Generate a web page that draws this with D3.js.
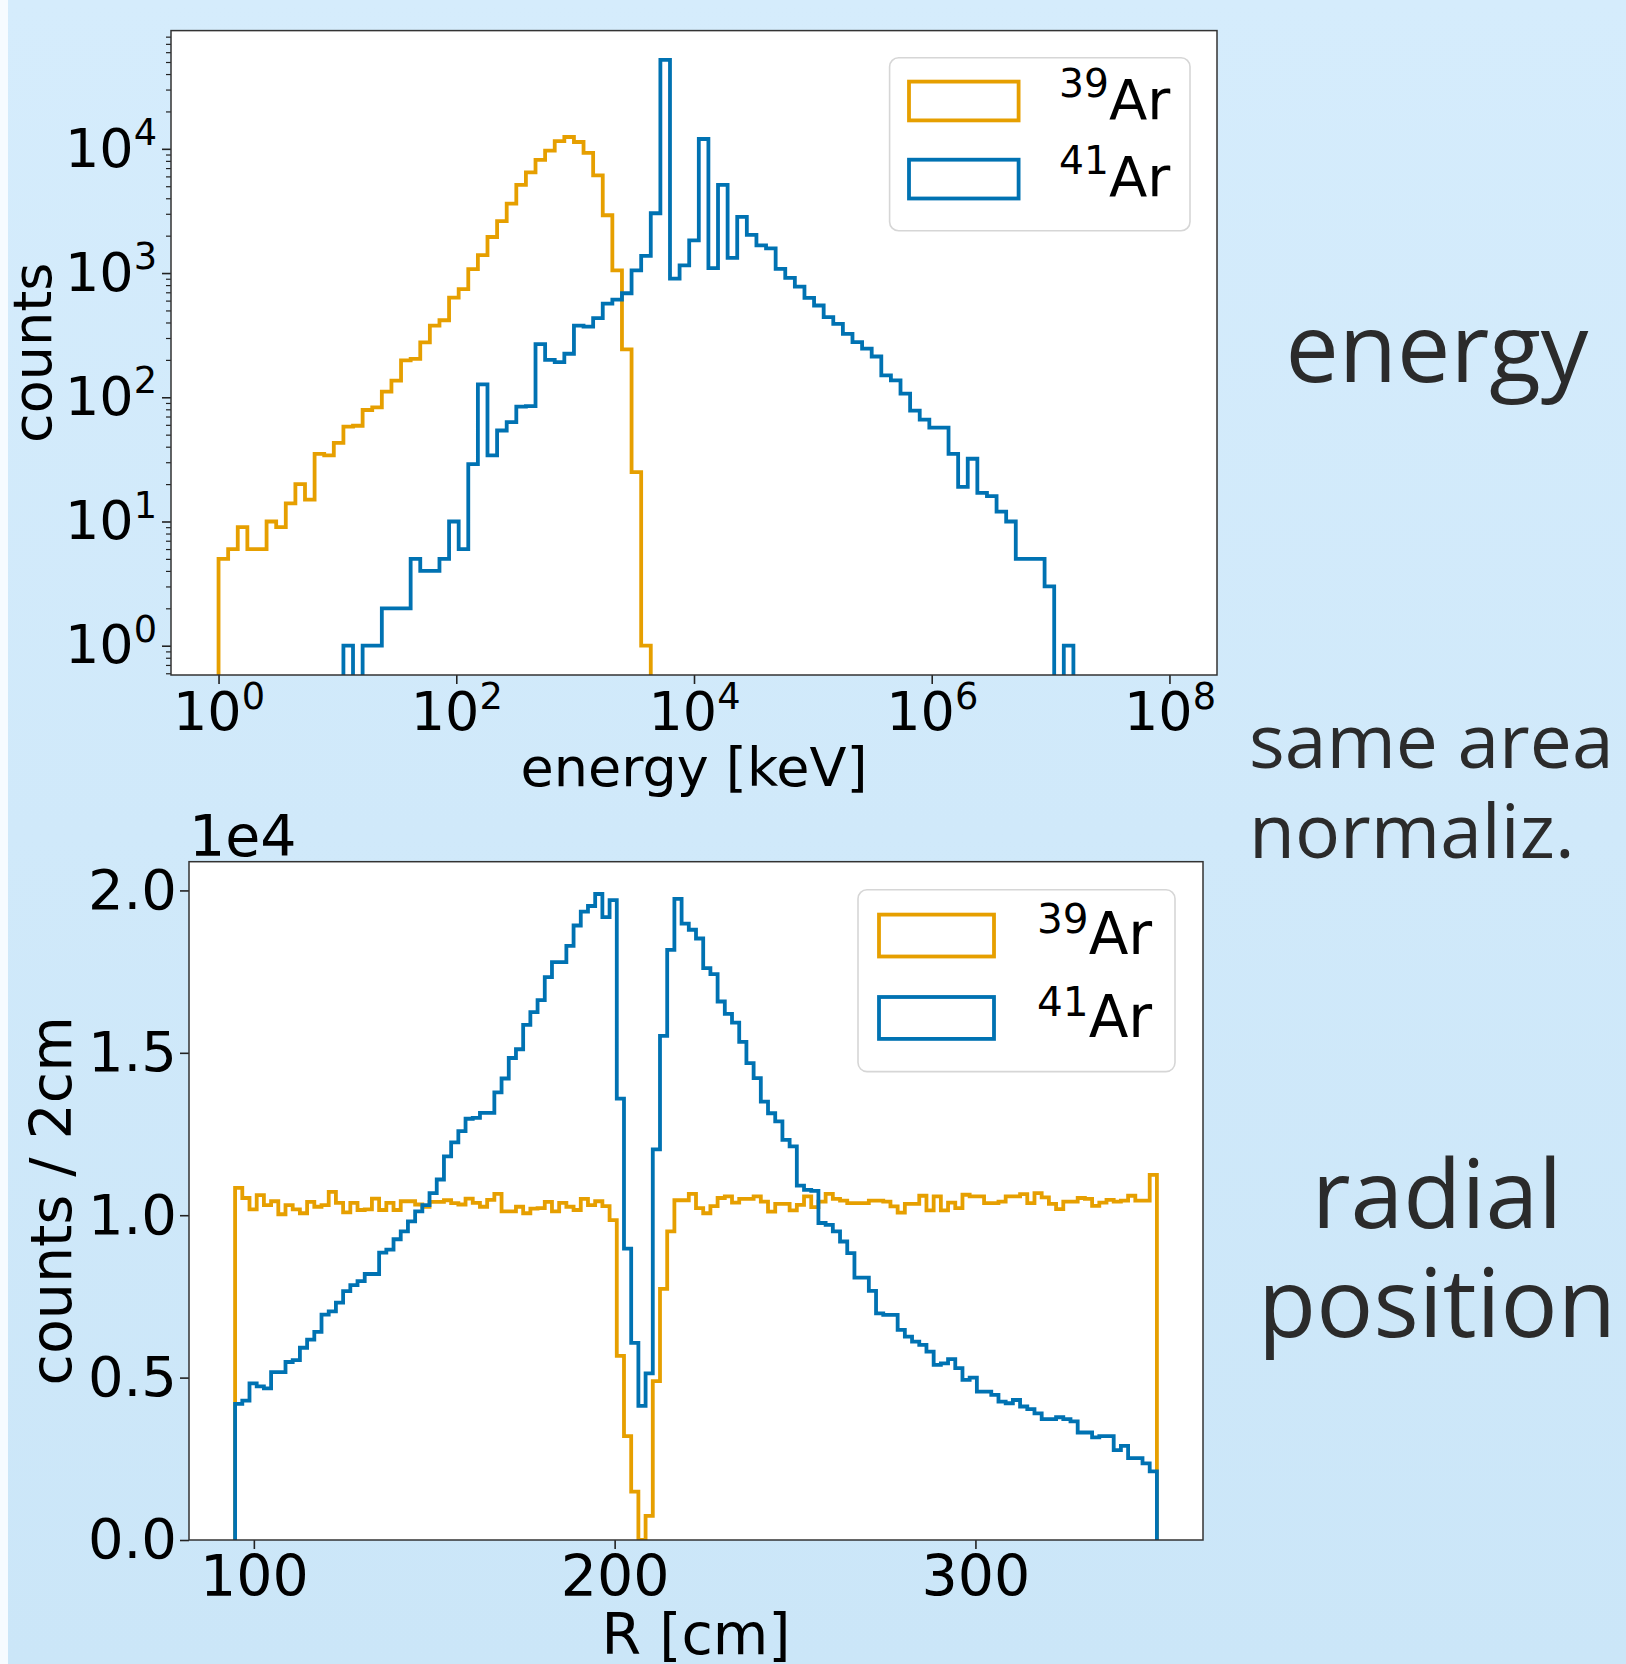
<!DOCTYPE html>
<html>
<head>
<meta charset="utf-8">
<script src="https://cdn.jsdelivr.net/npm/d3@7"></script>
<style>
  html, body { margin: 0; padding: 0; }
  body { width: 1626px; height: 1664px; overflow: hidden; }
  svg { display: block; }
</style>
</head>
<body>
<svg id="canvas" width="1626" height="1664"></svg>
<script>
const W = 1626, H = 1664
const ORANGE = "#E69F00", BLUE = "#0072B2"
const INK = "#2b2b2b"

// ---- energy histogram: log bins, 10^0 .. 10^8 keV, 100 edges
const energyExp = [0, 8]
const energyEdgeCount = 100
const ar39Energy = [5, 6, 9, 6, 6, 10, 9, 14, 20, 15, 35, 34, 43, 58, 59, 79, 83, 111, 136, 198,
  204, 277, 377, 417, 634, 741, 1077, 1392, 1950, 2617, 3620, 5130, 6460, 8140, 9660, 11530, 12450, 11350, 9290, 6120,
  2920, 1052, 243, 25, 1, 0, 0, 0, 0, 0, 0, 0, 0, 0, 0, 0, 0, 0, 0, 0,
  0, 0, 0, 0, 0, 0, 0, 0, 0, 0, 0, 0, 0, 0, 0, 0, 0, 0, 0, 0,
  0, 0, 0, 0, 0, 0, 0, 0, 0, 0, 0, 0, 0, 0, 0, 0, 0, 0, 0]
const ar41Energy = [0, 0, 0, 0, 0, 0, 0, 0, 0, 0, 0, 0, 0, 1, 0, 1, 1, 2, 2, 2,
  5, 4, 4, 5, 10, 6, 29, 127, 34, 54, 63, 84, 85, 268, 200, 192, 224, 377, 371, 433,
  567, 612, 688, 1051, 1377, 3030, 52000, 902, 1153, 1835, 12000, 1094, 5130, 1327, 2828, 2028, 1670, 1582, 1079, 914,
  778, 631, 548, 442, 390, 324, 278, 246, 213, 150, 137, 107, 78, 66, 57, 57, 35, 19, 32, 17,
  16, 12, 10, 5, 5, 5, 3, 0, 1, 0, 0, 0, 0, 0, 0, 0, 0, 0, 0]
const energyTickExp = [0, 2, 4, 6, 8]
const countTickExp = [0, 1, 2, 3, 4]

// ---- radial histogram: 2 cm bins
const radialRange = [94.8, 350.3]
const ar39Radial = [10840, 10530, 10180, 10620, 10310, 10430, 10030, 10310, 10180, 10060,
  10410, 10260, 10310, 10720, 10380, 10090, 10380, 10160, 10180, 10510,
  10160, 10380, 10160, 10430, 10430, 10330, 10260, 10410, 10410, 10460,
  10370, 10330, 10510, 10380, 10260, 10470, 10660, 10120, 10120, 10260,
  10060, 10200, 10220, 10410, 10120, 10380, 10260, 10160, 10500, 10310,
  10430, 10280, 9850, 5670, 3200, 1490, 0, 740, 4890, 7730,
  9500, 10460, 10460, 10660, 10220, 10060, 10280, 10530, 10580, 10390,
  10500, 10500, 10580, 10420, 10110, 10350, 10350, 10150, 10320, 10580,
  10250, 10420, 10660, 10500, 10450, 10370, 10370, 10370, 10450, 10450,
  10420, 10270, 10080, 10350, 10350, 10600, 10150, 10580, 10150, 10390,
  10220, 10630, 10580, 10580, 10370, 10370, 10420, 10580, 10580, 10650,
  10370, 10680, 10550, 10350, 10190, 10420, 10420, 10530, 10500, 10290,
  10390, 10470, 10420, 10450, 10600, 10450, 10450, 11240]
const ar41Radial = [4190, 4290, 4820, 4730, 4670, 5170, 5170, 5480, 5540, 5920,
  6170, 6410, 6940, 7040, 7310, 7660, 7850, 7970, 8190, 8190,
  8850, 8940, 9260, 9500, 9810, 10120, 10310, 10680, 11100, 11810,
  12240, 12590, 12970, 13000, 13150, 13150, 13780, 14210, 14840, 15110,
  15860, 16250, 16620, 17330, 17790, 17790, 18290, 18920, 19350, 19520,
  19890, 19180, 19700, 13590, 8970, 6070, 4130, 5130, 12030, 15520,
  18170, 19740, 18980, 18790, 18520, 17610, 17420, 16580, 16200, 15930,
  15340, 14680, 14220, 13500, 13140, 12890, 12320, 12120, 10910, 10780,
  10750, 9760, 9700, 9500, 9190, 8830, 8080, 8080, 7670, 6980,
  6930, 6930, 6470, 6260, 6110, 6010, 5800, 5390, 5440, 5570,
  5290, 4930, 5000, 4570, 4570, 4470, 4260, 4210, 4310, 4110,
  4030, 3900, 3720, 3720, 3780, 3720, 3650, 3310, 3310, 3160,
  3200, 3200, 2770, 2900, 2520, 2520, 2360, 2110]
const radialTicks = [100, 200, 300]
const radialCountTicks = [0, 5000, 10000, 15000, 20000]

const isotopes = ["39", "41"]
const isoColors = [ORANGE, BLUE]

const svg = d3.select("#canvas")
const defs = svg.append("defs")

// slide background
const grad = defs.append("linearGradient").attr("id", "bg")
  .attr("x1", 0).attr("y1", 0).attr("x2", 0).attr("y2", 1)
grad.append("stop").attr("offset", "0%").attr("stop-color", "#d5ecfc")
grad.append("stop").attr("offset", "100%").attr("stop-color", "#cbe6f8")
svg.append("rect").attr("width", W).attr("height", H).attr("fill", "url(#bg)")
svg.append("rect").attr("width", 8).attr("height", H).attr("fill", "#f6fbff")

// histogram outline, like matplotlib histtype='step'
function stepPath(edges, vals, x, y, floor) {
  const n = edges.length - 1
  const pts = [[edges[0], null]]
    .concat(vals.map((v, i) => [edges[i], v]))
    .concat([[edges[n], vals[n - 1]], [edges[n], null]])
  return d3.line().curve(d3.curveStepAfter)
    .x(d => x(d[0]))
    .y(d => (d[1] === null || d[1] <= 0) ? floor : y(d[1]))(pts)
}

function styleAxis(g, fs) {
  g.attr("font-family", "DejaVu Sans").attr("font-size", fs).attr("color", "#222")
  g.select(".domain").remove()
  g.selectAll(".tick line").attr("stroke-width", 1.6)
  g.selectAll(".tick text").attr("fill", "#000")
}

function powerLabels(a, fs) {
  a.selectAll(".tick text").each(function (d) {
    const t = d3.select(this)
    t.text(null)
    t.append("tspan").text("10")
    t.append("tspan").attr("font-size", fs * 0.68).attr("dy", -fs * 0.4).text(Math.round(Math.log10(d)))
  })
}

function legend(g, box, fs, supShift) {
  g.append("rect").attr("x", box.x).attr("y", box.y).attr("width", box.w).attr("height", box.h)
    .attr("rx", 9).attr("fill", "#fff").attr("stroke", "#d6d6d6").attr("stroke-width", 1.6)
  isotopes.forEach((iso, i) => {
    g.append("rect")
      .attr("x", box.x + box.hx).attr("y", box.y + box.hy[i])
      .attr("width", box.hw).attr("height", box.hh)
      .attr("fill", "none").attr("stroke", isoColors[i]).attr("stroke-width", 3.8)
    const t = g.append("text").attr("x", box.x + box.tx).attr("y", box.y + box.ty[i])
      .attr("font-family", "DejaVu Sans").attr("fill", "#000")
    t.append("tspan").attr("font-size", fs * 0.7).attr("dy", -supShift).text(iso)
    t.append("tspan").attr("font-size", fs).attr("dy", supShift).text("Ar")
  })
}

// ================= top panel: energy =================
{
  const box = { l: 171, t: 30.6, r: 1217, b: 675 }
  const fs = 54
  const g = svg.append("g")
  const span = energyExp[1] - energyExp[0]
  const edges = d3.range(energyEdgeCount).map(i => 10 ** (energyExp[0] + i * span / (energyEdgeCount - 1)))
  const x = d3.scaleLog()
    .domain([10 ** (energyExp[0] - 0.05 * span), 10 ** (energyExp[1] + 0.05 * span)])
    .range([box.l, box.r])
  const pos = ar39Energy.concat(ar41Energy).filter(v => v > 0)
  const lo = Math.log10(d3.min(pos)), hi = Math.log10(d3.max(pos))
  const pad = 0.05 * (hi - lo)
  const y = d3.scaleLog().domain([10 ** (lo - pad), 10 ** (hi + pad)]).range([box.b, box.t])

  g.append("rect").attr("x", box.l).attr("y", box.t).attr("width", box.r - box.l).attr("height", box.b - box.t)
    .attr("fill", "#fff")
  defs.append("clipPath").attr("id", "clipTop").append("rect")
    .attr("x", box.l).attr("y", box.t).attr("width", box.r - box.l).attr("height", box.b - box.t)

  const plot = g.append("g").attr("clip-path", "url(#clipTop)")
  ;[ar39Energy, ar41Energy].forEach((vals, i) => {
    plot.append("path").attr("d", stepPath(edges, vals, x, y, box.b + 60))
      .attr("fill", "none").attr("stroke", isoColors[i]).attr("stroke-width", 3.8)
      .attr("stroke-linejoin", "miter")
  })

  // minor y ticks
  const [d0, d1] = y.domain()
  const minors = []
  for (let k = Math.floor(Math.log10(d0)); k <= Math.ceil(Math.log10(d1)); k++)
    for (let m = 2; m <= 9; m++) { const v = m * 10 ** k; if (v >= d0 && v <= d1) minors.push(v) }
  g.append("g").attr("transform", `translate(${box.l},0)`)
    .call(d3.axisLeft(y).tickValues(minors).tickSize(5).tickFormat(""))
    .call(a => styleAxis(a, fs))
    .selectAll(".tick line").attr("stroke-width", 1.2)

  g.append("g").attr("transform", `translate(${box.l},0)`)
    .call(d3.axisLeft(y).tickValues(countTickExp.map(e => 10 ** e)).tickSize(9).tickPadding(5))
    .call(a => styleAxis(a, fs))
    .call(a => powerLabels(a, fs))

  g.append("g").attr("transform", `translate(0,${box.b})`)
    .call(d3.axisBottom(x).tickValues(energyTickExp.map(e => 10 ** e)).tickSize(9).tickPadding(8))
    .call(a => styleAxis(a, fs))
    .call(a => powerLabels(a, fs))

  g.append("rect").attr("x", box.l).attr("y", box.t).attr("width", box.r - box.l).attr("height", box.b - box.t)
    .attr("fill", "none").attr("stroke", "#333").attr("stroke-width", 1.5)

  g.append("text").attr("x", (box.l + box.r) / 2).attr("y", 786)
    .attr("text-anchor", "middle").attr("font-family", "DejaVu Sans").attr("font-size", fs)
    .text("energy [keV]")
  g.append("text").attr("transform", `translate(51,${(box.t + box.b) / 2}) rotate(-90)`)
    .attr("text-anchor", "middle").attr("font-family", "DejaVu Sans").attr("font-size", fs)
    .text("counts")

  legend(g, { x: 889.6, y: 57.7, w: 300.4, h: 173, hx: 19.4, hw: 109.6, hh: 38.8, hy: [23.9, 102],
    tx: 169.4, ty: [61.3, 138.7] }, 56, 22)
}

// ================= bottom panel: radial position =================
{
  const box = { l: 189, t: 861.7, r: 1203, b: 1540 }
  const fs = 57
  const g = svg.append("g")
  const nBins = ar39Radial.length
  const edges = d3.range(nBins + 1).map(i => radialRange[0] + i * (radialRange[1] - radialRange[0]) / nBins)
  const span = radialRange[1] - radialRange[0]
  const x = d3.scaleLinear().domain([radialRange[0] - 0.05 * span, radialRange[1] + 0.05 * span])
    .range([box.l, box.r])
  const y = d3.scaleLinear().domain([0, 1.05 * d3.max(ar39Radial.concat(ar41Radial))]).range([box.b, box.t])

  g.append("rect").attr("x", box.l).attr("y", box.t).attr("width", box.r - box.l).attr("height", box.b - box.t)
    .attr("fill", "#fff")
  defs.append("clipPath").attr("id", "clipBot").append("rect")
    .attr("x", box.l).attr("y", box.t).attr("width", box.r - box.l).attr("height", box.b - box.t)

  const plot = g.append("g").attr("clip-path", "url(#clipBot)")
  ;[ar39Radial, ar41Radial].forEach((vals, i) => {
    plot.append("path").attr("d", stepPath(edges, vals, x, y, y(0)))
      .attr("fill", "none").attr("stroke", isoColors[i]).attr("stroke-width", 3.8)
      .attr("stroke-linejoin", "miter")
  })

  g.append("g").attr("transform", `translate(${box.l},0)`)
    .call(d3.axisLeft(y).tickValues(radialCountTicks).tickSize(9).tickPadding(3)
      .tickFormat(v => (v / 1e4).toFixed(1)))
    .call(a => styleAxis(a, 56))

  g.append("g").attr("transform", `translate(0,${box.b})`)
    .call(d3.axisBottom(x).tickValues(radialTicks).tickSize(9).tickPadding(7).tickFormat(d3.format("d")))
    .call(a => styleAxis(a, fs))

  g.append("rect").attr("x", box.l).attr("y", box.t).attr("width", box.r - box.l).attr("height", box.b - box.t)
    .attr("fill", "none").attr("stroke", "#333").attr("stroke-width", 1.5)

  g.append("text").attr("x", 189).attr("y", 856)
    .attr("font-family", "DejaVu Sans").attr("font-size", fs).text("1e4")
  g.append("text").attr("x", (box.l + box.r) / 2).attr("y", 1654)
    .attr("text-anchor", "middle").attr("font-family", "DejaVu Sans").attr("font-size", fs)
    .text("R [cm]")
  g.append("text").attr("transform", `translate(71,${(box.t + box.b) / 2}) rotate(-90)`)
    .attr("text-anchor", "middle").attr("font-family", "DejaVu Sans").attr("font-size", fs)
    .text("counts / 2cm")

  legend(g, { x: 858, y: 889.8, w: 317, h: 181.8, hx: 21, hw: 115, hh: 41.9, hy: [24.8, 107.2],
    tx: 179, ty: [64.2, 147.2] }, 58, 21)
}

// ================= slide captions =================
const captions = [
  { text: "energy", x: 1437, y: 382, size: 95, anchor: "middle" },
  { text: "same area", x: 1249, y: 768, size: 75, anchor: "start" },
  { text: "normaliz.", x: 1249, y: 858, size: 75, anchor: "start" },
  { text: "radial", x: 1437, y: 1228, size: 95, anchor: "middle" },
  { text: "position", x: 1437, y: 1337, size: 95, anchor: "middle" }
]
svg.append("g").selectAll("text").data(captions).enter().append("text")
  .attr("x", d => d.x).attr("y", d => d.y)
  .attr("text-anchor", d => d.anchor)
  .attr("font-family", "'Open Sans', sans-serif")
  .attr("font-size", d => d.size)
  .attr("fill", INK)
  .text(d => d.text)
</script>
</body>
</html>
